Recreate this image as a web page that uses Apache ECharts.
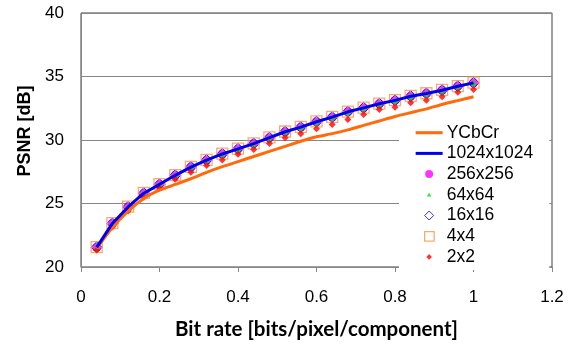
<!DOCTYPE html>
<html>
<head>
<meta charset="utf-8">
<script src="https://cdn.jsdelivr.net/npm/echarts@6/dist/echarts.min.js"></script>
<style>html,body{margin:0;padding:0;background:#fff}#c{width:573px;height:345px}</style>
</head>
<body>
<div id="c"></div>
<script>
const bitRates = [0.04,0.08,0.12,0.16,0.20,0.24,0.28,0.32,0.36,0.40,0.44,0.48,0.52,0.56,0.60,0.64,0.68,0.72,0.76,0.80,0.84,0.88,0.92,0.96,1.00];
const ycbcr   = [21.45,23.10,24.40,25.40,26.05,26.50,26.95,27.45,27.90,28.30,28.70,29.10,29.50,29.90,30.25,30.50,30.80,31.15,31.50,31.85,32.15,32.45,32.80,33.10,33.40];
const b1024   = [21.55,23.43,24.73,25.81,26.51,27.22,27.87,28.42,28.90,29.30,29.72,30.18,30.65,31.01,31.44,31.80,32.22,32.53,32.85,33.12,33.45,33.66,33.92,34.23,34.50];
const b256    = [21.55,23.43,24.73,25.81,26.51,27.22,27.87,28.42,28.90,29.30,29.72,30.18,30.65,31.01,31.44,31.80,32.22,32.53,32.85,33.12,33.45,33.66,33.92,34.23,34.50];
const b64     = [21.55,23.43,24.73,25.81,26.51,27.22,27.87,28.42,28.90,29.30,29.72,30.18,30.65,31.01,31.44,31.80,32.22,32.53,32.85,33.12,33.45,33.66,33.92,34.23,34.50];
const b16     = [21.55,23.43,24.73,25.81,26.51,27.22,27.87,28.42,28.90,29.30,29.72,30.18,30.65,31.01,31.44,31.80,32.22,32.53,32.85,33.12,33.45,33.66,33.92,34.23,34.50];
const b4      = [21.57,23.45,24.75,25.83,26.53,27.24,27.89,28.44,28.92,29.32,29.74,30.20,30.67,31.03,31.46,31.82,32.24,32.55,32.87,33.14,33.47,33.68,33.94,34.25,34.52];
const b2      = [21.33,23.14,24.40,25.50,26.20,26.90,27.46,28.00,28.42,28.87,29.26,29.73,30.18,30.49,30.89,31.22,31.62,32.00,32.40,32.58,32.93,33.13,33.40,33.76,33.97];
const seriesNames = ['YCbCr','1024x1024','256x256','64x64','16x16','4x4','2x2'];
const xTicks = [0,0.2,0.4,0.6,0.8,1,1.2];
const yTicks = [20,25,30,35,40];

function pts(ys){ return bitRates.map((x,i)=>[x,ys[i]]); }
const BOX = 'path://M0,0M27,14';
const icons = {
  line: BOX + 'M0,5.5L27,5.5L27,8.5L0,8.5Z',
  circle: BOX + 'M9.5,7A4,4,0,1,1,17.5,7A4,4,0,1,1,9.5,7Z',
  tri: BOX + 'M13.5,5L15.8,8.6L11.2,8.6Z',
  diamond: BOX + 'M13.5,2.5L18,7L13.5,11.5L9,7Z',
  square: BOX + 'M9,2.5L18.5,2.5L18.5,12L9,12Z',
  small: BOX + 'M13.5,4.2L16.3,7L13.5,9.8L10.7,7Z'
};
const C = {orange:'#FF6A0A', blue:'#0000F0', magenta:'#FF00FF', green:'#00E000', dblue:'#0000FF', sq:'#F79646', red:'#FF0000'};
const font = 'Liberation Sans';

const chart = echarts.init(document.getElementById('c'));
chart.setOption({
  animation:false,
  backgroundColor:'#fff',
  grid:{left:81,right:21,top:13,bottom:77,show:true,borderColor:'#404040',borderWidth:1,backgroundColor:'transparent'},
  legend:{
    orient:'vertical', left:399, top:117,
    padding:[6.7,16,4,16], itemGap:2.7, itemWidth:27, itemHeight:14,
    backgroundColor:'#fff',
    textStyle:{fontFamily:font,fontSize:17.5,color:'#000',padding:[0,0,0,-1]},
    data:[
      {name:seriesNames[0],icon:icons.line,itemStyle:{color:C.orange,borderWidth:0}},
      {name:seriesNames[1],icon:icons.line,itemStyle:{color:C.blue,borderWidth:0}},
      {name:seriesNames[2],icon:icons.circle,itemStyle:{color:C.magenta,borderWidth:0}},
      {name:seriesNames[3],icon:icons.tri,itemStyle:{color:C.green,borderWidth:0}},
      {name:seriesNames[4],icon:icons.diamond,itemStyle:{color:'rgba(0,0,0,0)',borderColor:C.dblue,borderWidth:1}},
      {name:seriesNames[5],icon:icons.square,itemStyle:{color:'rgba(0,0,0,0)',borderColor:C.sq,borderWidth:1.3}},
      {name:seriesNames[6],icon:icons.small,itemStyle:{color:C.red,borderWidth:0}}
    ]
  },
  xAxis:{
    type:'value', min:0, max:1.2, interval:0.2,
    name:'Bit rate [bits/pixel/component]', nameLocation:'middle', nameGap:52,
    nameTextStyle:{fontFamily:'Lato',fontWeight:'bold',fontSize:20.5,color:'#000'},
    axisLine:{show:true,lineStyle:{color:'#868686',width:1}},
    axisTick:{show:true,length:5,lineStyle:{color:'#868686'}},
    splitLine:{show:false},
    axisLabel:{fontFamily:font,fontSize:17,color:'#000',margin:22,
      formatter:v=>{const t=xTicks.find(k=>Math.abs(k-v)<1e-6);return t===undefined?'':String(t);}}
  },
  yAxis:{
    type:'value', min:20, max:40, interval:5,
    name:'PSNR [dB]', nameLocation:'middle', nameGap:47, nameRotate:90,
    nameTextStyle:{fontFamily:font,fontWeight:'bold',fontSize:18,color:'#000',padding:[0,0,0,18]},
    axisLine:{show:true,lineStyle:{color:'#868686',width:1}},
    axisTick:{show:false},
    splitLine:{show:true,lineStyle:{color:'#868686',width:1}},
    axisLabel:{fontFamily:font,fontSize:17,color:'#000',margin:17,
      formatter:v=>{const t=yTicks.find(k=>Math.abs(k-v)<1e-6);return t===undefined?'':String(t);}}
  },
  series:[
    {name:seriesNames[0],type:'line',data:pts(ycbcr),symbol:'none',smooth:0.2,lineStyle:{color:C.orange,width:3},itemStyle:{color:C.orange}},
    {name:seriesNames[1],type:'line',data:pts(b1024),symbol:'none',lineStyle:{color:C.blue,width:3},itemStyle:{color:C.blue}},
    {name:seriesNames[2],type:'scatter',data:pts(b256),symbol:'circle',symbolSize:9,itemStyle:{color:C.magenta}},
    {name:seriesNames[3],type:'scatter',data:pts(b64),symbol:'triangle',symbolSize:7,itemStyle:{color:C.green}},
    {name:seriesNames[4],type:'scatter',data:pts(b16),symbol:'diamond',symbolSize:11,itemStyle:{color:'rgba(0,0,0,0)',borderColor:C.dblue,borderWidth:1}},
    {name:seriesNames[5],type:'scatter',data:pts(b4),symbol:'rect',symbolSize:11,itemStyle:{color:'rgba(0,0,0,0)',borderColor:C.sq,borderWidth:1.3}},
    {name:seriesNames[6],type:'scatter',data:pts(b2),symbol:'diamond',symbolSize:7,itemStyle:{color:C.red}}
  ]
});
</script>
</body>
</html>
